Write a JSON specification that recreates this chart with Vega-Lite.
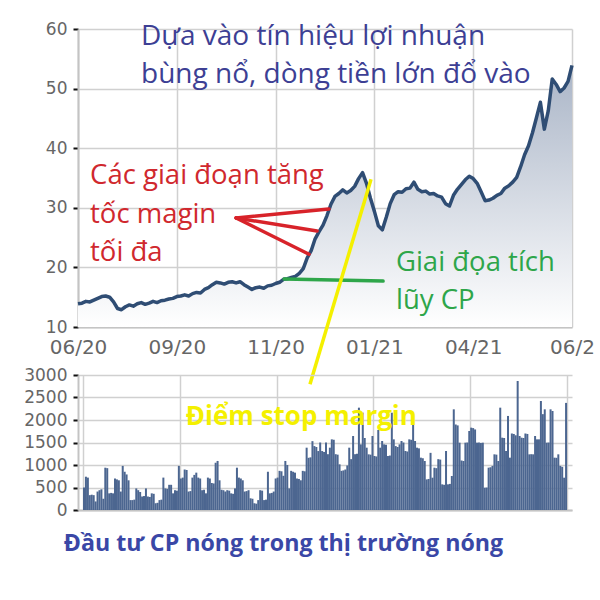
{
  "$schema": "https://vega.github.io/schema/vega-lite/v6.json",
  "background": "white",
  "padding": {"left": 23, "top": 20, "right": 10, "bottom": 10},
  "config": {
    "view": {"stroke": null},
    "axis": {
      "labelFont": "DejaVu Sans",
      "labelFontSize": 17,
      "labelColor": "#666666",
      "gridColor": "#d0d0d0",
      "gridWidth": 1.5,
      "domainColor": "#c4c4c4",
      "domainWidth": 2,
      "title": null
    }
  },
  "title": {
    "text": "Đầu tư CP nóng trong thị trường nóng",
    "orient": "bottom",
    "anchor": "start",
    "font": "Open Sans",
    "fontSize": 23.2,
    "fontWeight": "bold",
    "color": "#3a47a6",
    "offset": 15,
    "dx": 40
  },
  "bounds": "flush",
  "spacing": 48,
  "datasets": {
    "price": [
      {"d":0,"p":13.9},{"d":2,"p":14.0},{"d":4,"p":14.3},{"d":6,"p":14.2},{"d":8,"p":14.5},{"d":10,"p":14.8},
      {"d":12,"p":15.1},{"d":14,"p":15.2},{"d":16,"p":15.0},{"d":18,"p":14.2},{"d":20,"p":13.1},{"d":22,"p":12.9},
      {"d":24,"p":13.4},{"d":26,"p":13.7},{"d":28,"p":13.5},{"d":30,"p":13.9},{"d":32,"p":14.1},{"d":34,"p":13.8},
      {"d":36,"p":14.0},{"d":38,"p":14.3},{"d":40,"p":14.1},{"d":42,"p":14.4},{"d":44,"p":14.5},{"d":46,"p":14.7},
      {"d":48,"p":14.8},{"d":50,"p":15.1},{"d":52,"p":15.2},{"d":54,"p":15.4},{"d":56,"p":15.2},{"d":58,"p":15.6},
      {"d":60,"p":15.8},{"d":62,"p":15.7},{"d":64,"p":16.3},{"d":66,"p":16.6},{"d":68,"p":17.1},{"d":70,"p":17.5},
      {"d":72,"p":17.4},{"d":74,"p":17.2},{"d":76,"p":17.5},{"d":78,"p":17.6},{"d":80,"p":17.4},{"d":82,"p":17.6},
      {"d":84,"p":17.1},{"d":86,"p":16.7},{"d":88,"p":16.3},{"d":90,"p":16.6},{"d":92,"p":16.7},{"d":94,"p":16.5},
      {"d":96,"p":16.9},{"d":98,"p":17.0},{"d":100,"p":17.3},{"d":102,"p":17.5},{"d":104,"p":18.0},{"d":106,"p":18.1},
      {"d":108,"p":18.3},{"d":110,"p":18.5},{"d":112,"p":19.0},{"d":114,"p":19.8},{"d":116,"p":21.6},{"d":118,"p":22.8},
      {"d":120,"p":24.8},{"d":122,"p":26.0},{"d":124,"p":27.1},{"d":126,"p":28.7},{"d":128,"p":30.6},{"d":130,"p":31.9},
      {"d":132,"p":32.4},{"d":134,"p":33.0},{"d":136,"p":32.5},{"d":138,"p":32.9},{"d":140,"p":33.6},{"d":142,"p":34.9},
      {"d":144,"p":35.9},{"d":146,"p":34.1},{"d":148,"p":31.6},{"d":150,"p":29.4},{"d":152,"p":27.0},{"d":154,"p":26.3},
      {"d":156,"p":28.4},{"d":158,"p":30.7},{"d":160,"p":32.2},{"d":162,"p":32.7},{"d":164,"p":32.6},{"d":166,"p":33.2},
      {"d":168,"p":33.3},{"d":170,"p":34.3},{"d":172,"p":33.1},{"d":174,"p":32.7},{"d":176,"p":32.8},{"d":178,"p":32.3},
      {"d":180,"p":32.4},{"d":182,"p":32.0},{"d":184,"p":31.8},{"d":186,"p":30.7},{"d":188,"p":30.3},{"d":190,"p":32.1},
      {"d":192,"p":33.1},{"d":194,"p":33.9},{"d":196,"p":34.7},{"d":198,"p":35.3},{"d":200,"p":34.9},{"d":202,"p":34.1},
      {"d":204,"p":32.7},{"d":206,"p":31.2},{"d":208,"p":31.3},{"d":210,"p":31.6},{"d":212,"p":32.1},{"d":214,"p":32.4},
      {"d":216,"p":33.3},{"d":218,"p":33.7},{"d":220,"p":34.3},{"d":222,"p":35.1},{"d":224,"p":36.9},{"d":226,"p":38.9},
      {"d":228,"p":40.4},{"d":230,"p":42.6},{"d":232,"p":45.1},{"d":234,"p":47.7},{"d":236,"p":43.2},{"d":238,"p":46.3},
      {"d":240,"p":51.6},{"d":242,"p":50.7},{"d":244,"p":49.5},{"d":246,"p":50.1},{"d":248,"p":51.2},{"d":250,"p":53.9}
    ],
    "vol": [
      {"d":0,"v":500},{"d":1,"v":740},{"d":2,"v":720},{"d":3,"v":330},{"d":4,"v":340},{"d":5,"v":330},{"d":6,"v":190},{"d":7,"v":410},{"d":8,"v":440},{"d":9,"v":460},
      {"d":10,"v":250},{"d":11,"v":940},{"d":12,"v":930},{"d":13,"v":370},{"d":14,"v":380},{"d":15,"v":370},{"d":16,"v":700},{"d":17,"v":680},{"d":18,"v":660},{"d":19,"v":410},
      {"d":20,"v":980},{"d":21,"v":850},{"d":22,"v":790},{"d":23,"v":660},{"d":24,"v":220},{"d":25,"v":220},{"d":26,"v":230},{"d":27,"v":480},{"d":28,"v":440},{"d":29,"v":400},
      {"d":30,"v":300},{"d":31,"v":310},{"d":32,"v":480},{"d":33,"v":300},{"d":34,"v":290},{"d":35,"v":370},{"d":36,"v":360},{"d":37,"v":150},{"d":38,"v":160},{"d":39,"v":220},
      {"d":40,"v":230},{"d":41,"v":720},{"d":42,"v":480},{"d":43,"v":470},{"d":44,"v":560},{"d":45,"v":560},{"d":46,"v":370},{"d":47,"v":440},{"d":48,"v":430},{"d":49,"v":980},
      {"d":50,"v":700},{"d":51,"v":720},{"d":52,"v":900},{"d":53,"v":890},{"d":54,"v":410},{"d":55,"v":420},{"d":56,"v":720},{"d":57,"v":780},{"d":58,"v":830},{"d":59,"v":720},
      {"d":60,"v":700},{"d":61,"v":440},{"d":62,"v":450},{"d":63,"v":370},{"d":64,"v":720},{"d":65,"v":700},{"d":66,"v":600},{"d":67,"v":590},{"d":68,"v":1050},{"d":69,"v":1090},
      {"d":70,"v":660},{"d":71,"v":450},{"d":72,"v":440},{"d":73,"v":410},{"d":74,"v":440},{"d":75,"v":430},{"d":76,"v":370},{"d":77,"v":360},{"d":78,"v":480},{"d":79,"v":940},
      {"d":80,"v":720},{"d":81,"v":700},{"d":82,"v":660},{"d":83,"v":410},{"d":84,"v":420},{"d":85,"v":440},{"d":86,"v":260},{"d":87,"v":250},{"d":88,"v":150},{"d":89,"v":140},
      {"d":90,"v":220},{"d":91,"v":440},{"d":92,"v":430},{"d":93,"v":220},{"d":94,"v":230},{"d":95,"v":850},{"d":96,"v":370},{"d":97,"v":380},{"d":98,"v":410},{"d":99,"v":700},
      {"d":100,"v":720},{"d":101,"v":870},{"d":102,"v":860},{"d":103,"v":760},{"d":104,"v":1090},{"d":105,"v":1000},{"d":106,"v":480},{"d":107,"v":870},{"d":108,"v":850},{"d":109,"v":830},
      {"d":110,"v":700},{"d":111,"v":690},{"d":112,"v":660},{"d":113,"v":870},{"d":114,"v":860},{"d":115,"v":1385},{"d":116,"v":1160},{"d":117,"v":1170},{"d":118,"v":1530},{"d":119,"v":1420},
      {"d":120,"v":1400},{"d":121,"v":1310},{"d":122,"v":1500},{"d":123,"v":1310},{"d":124,"v":1290},{"d":125,"v":1500},{"d":126,"v":1240},{"d":127,"v":1385},{"d":128,"v":1570},{"d":129,"v":1560},
      {"d":130,"v":1240},{"d":131,"v":1230},{"d":132,"v":1015},{"d":133,"v":870},{"d":134,"v":880},{"d":135,"v":900},{"d":136,"v":990},{"d":137,"v":1385},{"d":138,"v":1130},{"d":139,"v":1644},
      {"d":140,"v":1240},{"d":141,"v":1250},{"d":142,"v":2274},{"d":143,"v":1459},{"d":144,"v":2163},{"d":145,"v":1600},{"d":146,"v":1385},{"d":147,"v":1237},{"d":148,"v":1230},{"d":149,"v":1644},
      {"d":150,"v":1200},{"d":151,"v":1190},{"d":152,"v":1780},{"d":153,"v":1385},{"d":154,"v":1533},{"d":155,"v":1459},{"d":156,"v":1450},{"d":157,"v":1200},{"d":158,"v":1210},{"d":159,"v":2163},
      {"d":160,"v":1570},{"d":161,"v":1420},{"d":162,"v":1400},{"d":163,"v":1459},{"d":164,"v":1533},{"d":165,"v":1500},{"d":166,"v":1311},{"d":167,"v":1300},{"d":168,"v":1570},{"d":169,"v":1560},
      {"d":170,"v":2090},{"d":171,"v":1533},{"d":172,"v":1385},{"d":173,"v":1370},{"d":174,"v":1163},{"d":175,"v":1150},{"d":176,"v":1089},{"d":177,"v":680},{"d":178,"v":690},{"d":179,"v":1270},
      {"d":180,"v":718},{"d":181,"v":940},{"d":182,"v":930},{"d":183,"v":1130},{"d":184,"v":1120},{"d":185,"v":570},{"d":186,"v":560},{"d":187,"v":1311},{"d":188,"v":570},{"d":189,"v":580},
      {"d":190,"v":755},{"d":191,"v":2237},{"d":192,"v":1900},{"d":193,"v":1880},{"d":194,"v":1496},{"d":195,"v":1100},{"d":196,"v":1089},{"d":197,"v":1496},{"d":198,"v":1500},{"d":199,"v":1756},
      {"d":200,"v":1830},{"d":201,"v":1820},{"d":202,"v":1790},{"d":203,"v":1496},{"d":204,"v":1500},{"d":205,"v":1490},{"d":206,"v":1496},{"d":207,"v":496},{"d":208,"v":500},{"d":209,"v":941},
      {"d":210,"v":950},{"d":211,"v":980},{"d":212,"v":1237},{"d":213,"v":1230},{"d":214,"v":1089},{"d":215,"v":2274},{"d":216,"v":1607},{"d":217,"v":1600},{"d":218,"v":1311},{"d":219,"v":2090},
      {"d":220,"v":1163},{"d":221,"v":1700},{"d":222,"v":1690},{"d":223,"v":1660},{"d":224,"v":2867},{"d":225,"v":1644},{"d":226,"v":1607},{"d":227,"v":1600},{"d":228,"v":1700},{"d":229,"v":1690},
      {"d":230,"v":1237},{"d":231,"v":1240},{"d":232,"v":1237},{"d":233,"v":1644},{"d":234,"v":1570},{"d":235,"v":1570},{"d":236,"v":2422},{"d":237,"v":2130},{"d":238,"v":2237},{"d":239,"v":1496},
      {"d":240,"v":1500},{"d":241,"v":2237},{"d":242,"v":2200},{"d":243,"v":1163},{"d":244,"v":1160},{"d":245,"v":1237},{"d":246,"v":980},{"d":247,"v":960},{"d":248,"v":718},{"d":249,"v":2380}
    ]
  },
  "vconcat": [
    {
      "width": 494,
      "height": 298,
      "encoding": {
        "x": {
          "field": "d", "type": "quantitative",
          "scale": {"domain": [0, 250], "nice": false, "zero": false},
          "axis": {
            "values": [0, 50, 100, 150, 200, 250],
            "labelExpr": "['06/20','09/20','11/20','01/21','04/21','06/2'][datum.value / 50]",
            "labelFontSize": 20,
            "labelFlush": false,
            "ticks": false,
            "labelPadding": 10,
            "grid": true
          }
        },
        "y": {
          "field": "p", "type": "quantitative",
          "scale": {"domain": [10, 60], "nice": false, "zero": false},
          "axis": {
            "values": [10, 20, 30, 40, 50, 60],
            "tickColor": "#111111", "tickSize": 5, "tickWidth": 2,
            "labelPadding": 6,
            "grid": true
          }
        }
      },
      "layer": [
        {
          "data": {"name": "price"},
          "mark": {
            "type": "area",
            "color": {
              "gradient": "linear", "x1": 0, "y1": 0, "x2": 0, "y2": 1,
              "stops": [{"offset": 0, "color": "#aab5c7"}, {"offset": 1, "color": "#ffffff"}]
            }
          },
          "encoding": {"y2": {"datum": 10}}
        },
        {
          "data": {"name": "price"},
          "mark": {"type": "line", "color": "#2f4d74", "strokeWidth": 3.5, "strokeJoin": "round"}
        },
        {
          "data": {"values": [{"d": 104.3, "p": 18.05, "d2": 154.4, "p2": 17.7}]},
          "mark": {"type": "rule", "color": "#2ea64a", "strokeWidth": 3.5, "strokeCap": "round"},
          "encoding": {"x2": {"field": "d2"}, "y2": {"field": "p2"}}
        },
        {
          "data": {"values": [
            {"d": 80, "p": 28.3, "d2": 127, "p2": 29.8},
            {"d": 80, "p": 28.3, "d2": 121, "p2": 26.1},
            {"d": 80, "p": 28.3, "d2": 116.9, "p2": 22.2}
          ]},
          "mark": {"type": "rule", "color": "#d8232a", "strokeWidth": 3.5, "strokeCap": "round"},
          "encoding": {"x2": {"field": "d2"}, "y2": {"field": "p2"}}
        },
        {
          "data": {"values": [{"d": 148.3, "p": 34.8, "d2": 117.4, "p2": 0.4}]},
          "mark": {"type": "rule", "color": "#f4f000", "strokeWidth": 3.5, "clip": false},
          "encoding": {"x2": {"field": "d2"}, "y2": {"field": "p2"}}
        },
        {
          "data": {"values": [
            {"d": 31.9, "p": 57.3, "t": "Dựa vào tín hiệu lợi nhuận"},
            {"d": 31.9, "p": 50.9, "t": "bùng nổ, dòng tiền lớn đổ vào"}
          ]},
          "mark": {"type": "text", "align": "left", "baseline": "alphabetic", "font": "Open Sans", "fontSize": 28, "color": "#3d3f94"},
          "encoding": {"text": {"field": "t"}}
        },
        {
          "data": {"values": [
            {"d": 6.1, "p": 34.0, "t": "Các giai đoạn tăng"},
            {"d": 6.1, "p": 27.5, "t": "tốc magin"},
            {"d": 6.1, "p": 21.1, "t": "tối đa"}
          ]},
          "mark": {"type": "text", "align": "left", "baseline": "alphabetic", "font": "Open Sans", "fontSize": 27.5, "color": "#d0282e"},
          "encoding": {"text": {"field": "t"}}
        },
        {
          "data": {"values": [
            {"d": 160.9, "p": 19.4, "t": "Giai đọa tích"},
            {"d": 160.9, "p": 13.0, "t": "lũy CP"}
          ]},
          "mark": {"type": "text", "align": "left", "baseline": "alphabetic", "font": "Open Sans", "fontSize": 27.5, "color": "#2ea64a"},
          "encoding": {"text": {"field": "t"}}
        }
      ]
    },
    {
      "width": 494,
      "height": 135,
      "encoding": {
        "x": {
          "field": "d", "type": "quantitative",
          "scale": {"domain": [0, 250], "nice": false, "zero": false},
          "axis": {"values": [0, 50, 100, 150, 200, 250], "labels": false, "ticks": false, "grid": true}
        },
        "y": {
          "field": "v", "type": "quantitative",
          "scale": {"domain": [0, 3000], "nice": false},
          "axis": {
            "values": [0, 500, 1000, 1500, 2000, 2500, 3000],
            "format": "d",
            "tickColor": "#111111", "tickSize": 5, "tickWidth": 2,
            "labelPadding": 6,
            "grid": true
          }
        }
      },
      "layer": [
        {
          "data": {"name": "vol"},
          "mark": {"type": "bar", "width": 2, "color": "#4c6690", "xOffset": 1}
        },
        {
          "data": {"values": [{"d": 53.1, "v": 1900, "t": "Điểm stop margin"}]},
          "mark": {"type": "text", "align": "left", "baseline": "alphabetic", "font": "Open Sans", "fontSize": 26, "fontWeight": "bold", "color": "#f4f000"},
          "encoding": {"text": {"field": "t"}}
        }
      ]
    }
  ]
}
